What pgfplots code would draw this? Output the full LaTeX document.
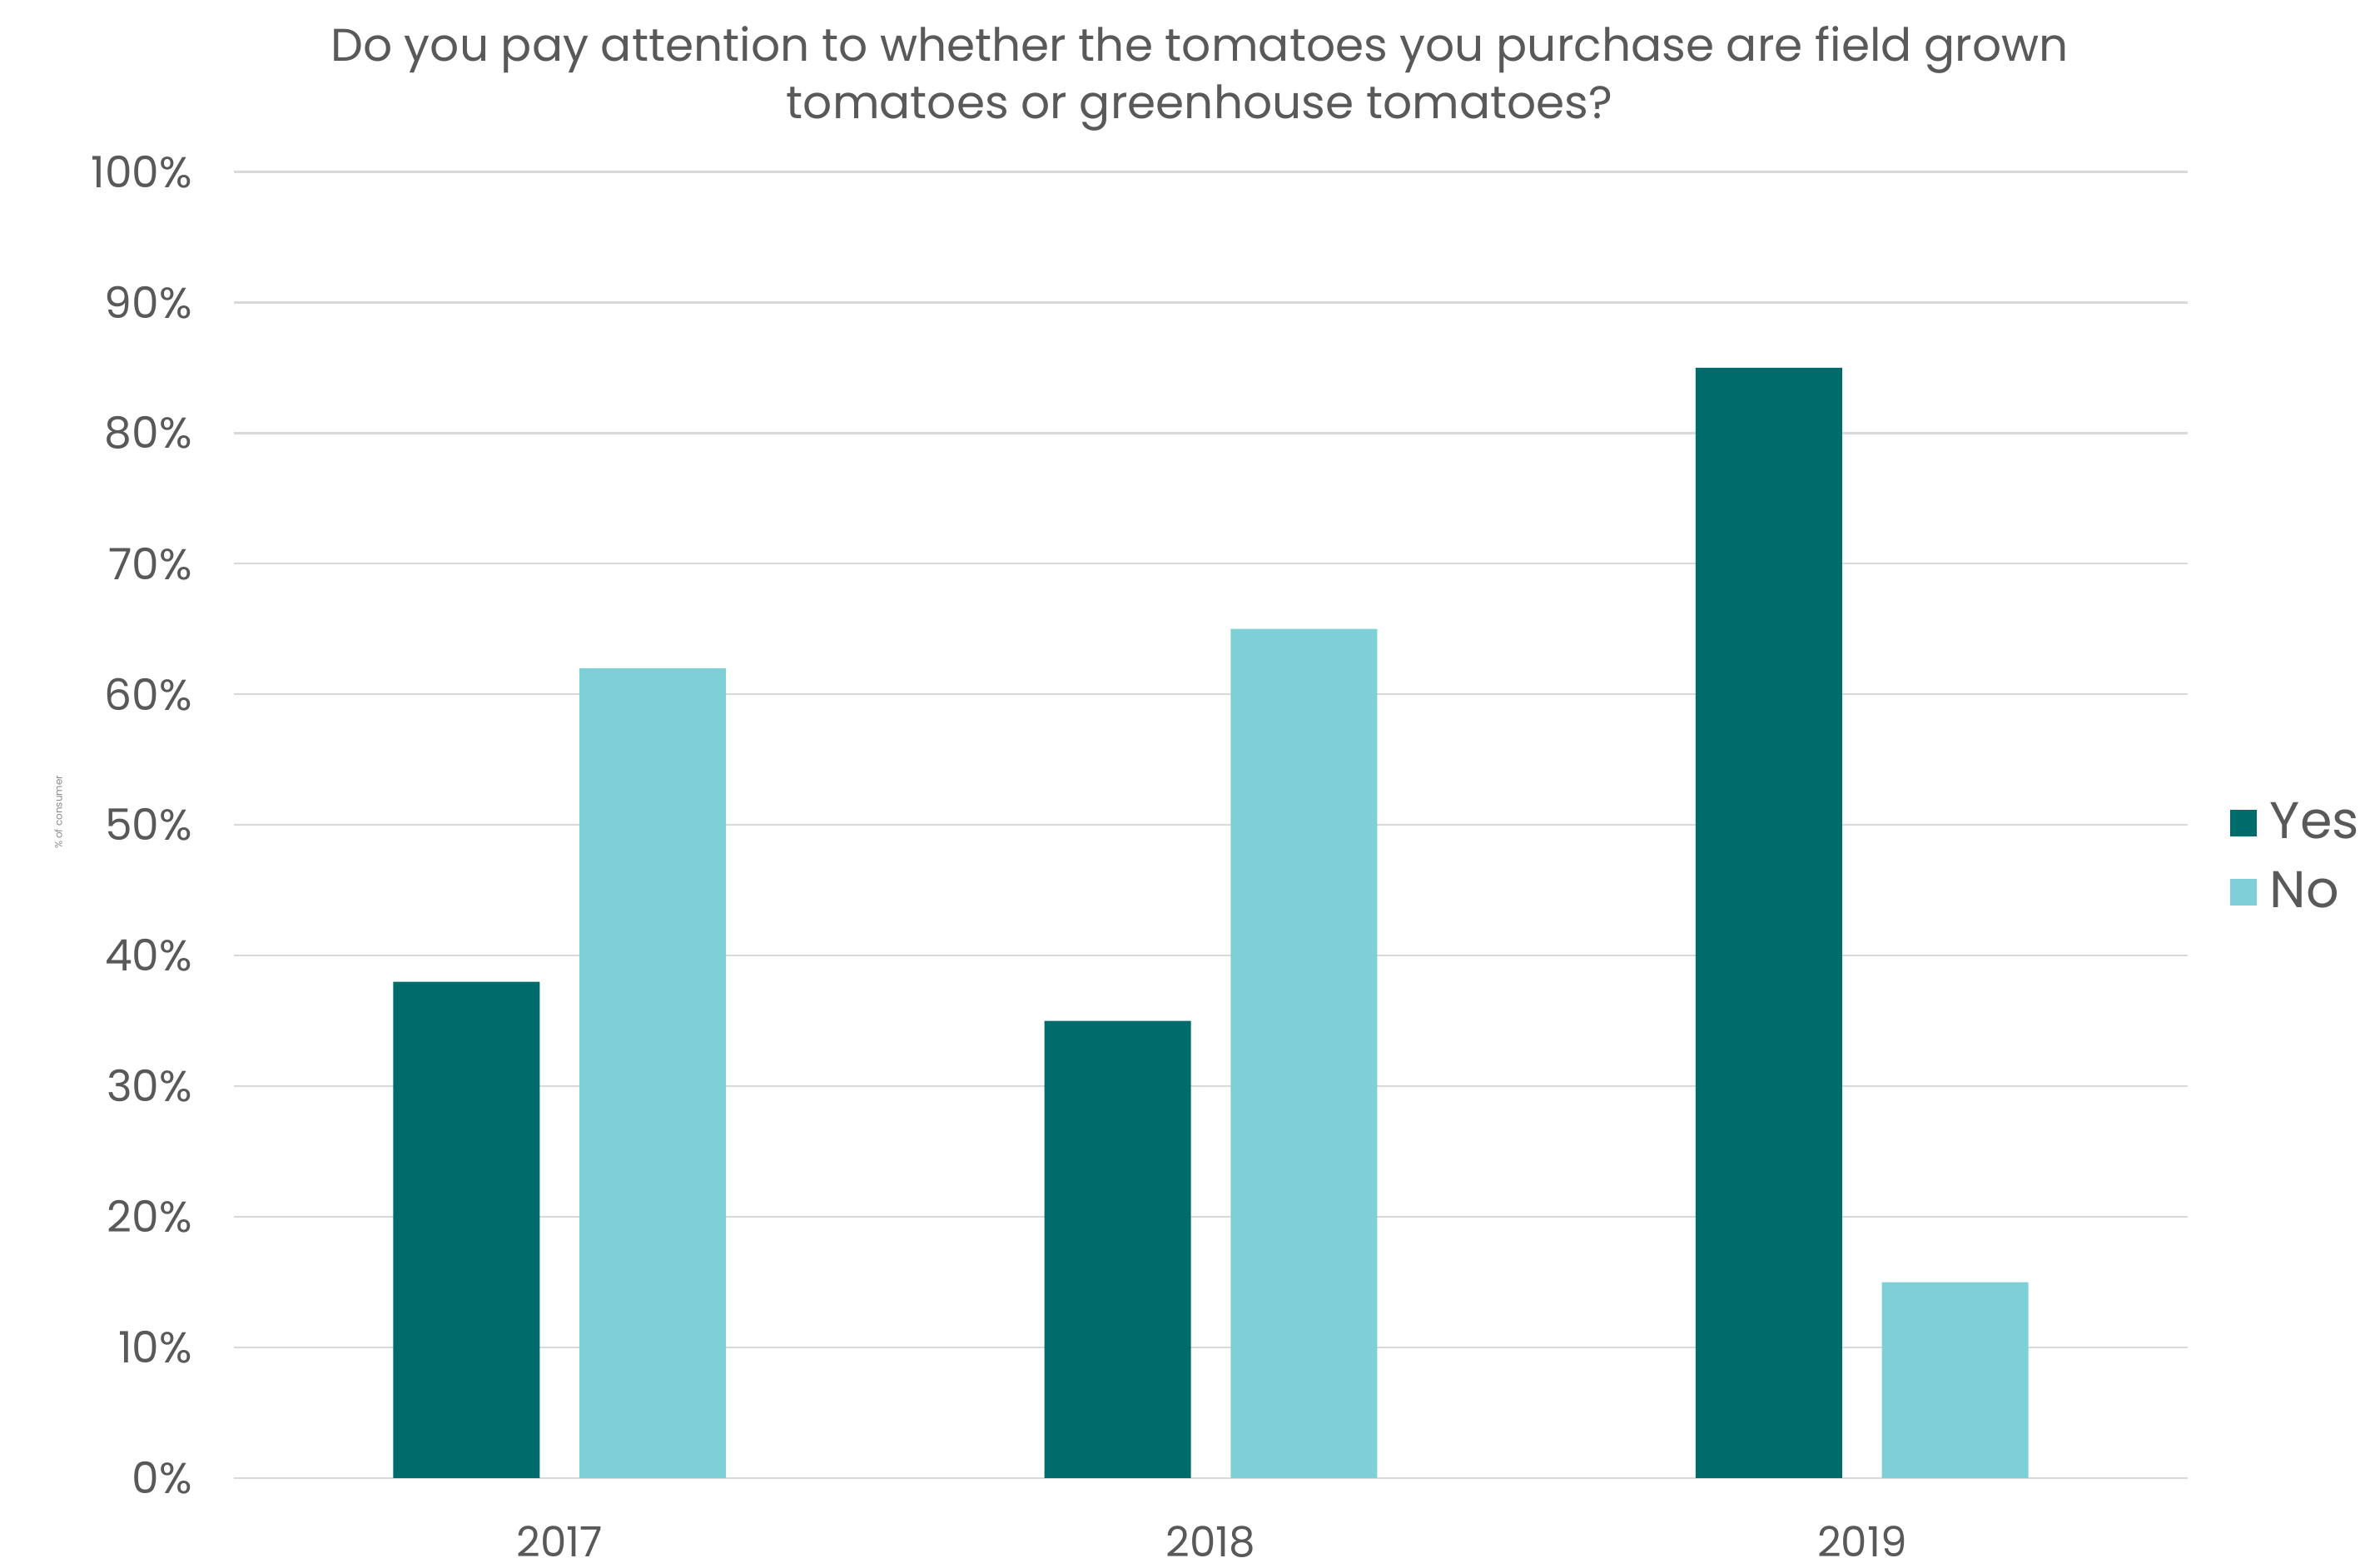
\documentclass[border=0pt]{standalone}
\usepackage{pgfplots}
\pgfplotsset{compat=1.18}
\usepackage{fontspec}
\setmainfont{Poppins}
\definecolor{yesc}{HTML}{006B6B}
\definecolor{noc}{HTML}{7ECFD6}
\definecolor{txt}{HTML}{595959}
\definecolor{gridc}{HTML}{D9D9D9}
\begin{document}
\begin{tikzpicture}
\useasboundingbox (-70.25pt,-27pt) rectangle (640pt,444pt);
\begin{axis}[
  at={(0pt,0pt)}, anchor=south west, scale only axis,
  width=586.75pt, height=392.4pt,
  xmin=-0.5, xmax=2.5, ymin=0, ymax=100,
  axis line style={draw=none},
  tick style={draw=none},
  major tick length=0pt,
  ybar, bar width=0.225,
  ymajorgrids, grid style={gridc, line width=0.6pt},
  ytick={0,10,...,100},
  xtick={0,1,2}, xticklabels={2017,2018,2019},
  /pgf/number format/assume math mode=true,
  yticklabel={\pgfmathprintnumber{\tick}\%},
  yticklabel style={font=\fontsize{13}{15}\selectfont, text=txt, anchor=east, xshift=-9pt},
  xticklabel style={font=\fontsize{12.5}{15}\selectfont, text=txt, yshift=-11pt},
  legend style={at={(rel axis cs:1,0.475)}, anchor=west, xshift=12.5pt, draw=none, fill=none,
    font=\fontsize{15.5}{18}\selectfont, text=txt, row sep=4.5pt, inner sep=0pt,
    nodes={inner xsep=4pt}},
  legend cell align=left,
  legend image code/.code={\fill[#1] (0pt,-4pt) rectangle (8pt,4pt);},
]
\addplot[fill=yesc, draw=none, bar shift=-0.143] coordinates {(0,38) (1,35) (2,85)};
\addlegendentry{Yes}
\addplot[fill=noc, draw=none, bar shift=0.143] coordinates {(0,62) (1,65) (2,15)};
\addlegendentry{No}
\end{axis}
\node[align=center, text=txt, font=\fontsize{13.75}{17.25}\selectfont] at (290pt,420.5pt)
  {Do you pay attention to whether the tomatoes you purchase are field grown\\tomatoes or greenhouse tomatoes?};
\node[rotate=90, text=txt!70, font=\fontsize{3}{4}\selectfont] at (-52.75pt,200pt) {\% of consumer};
\end{tikzpicture}
\end{document}
